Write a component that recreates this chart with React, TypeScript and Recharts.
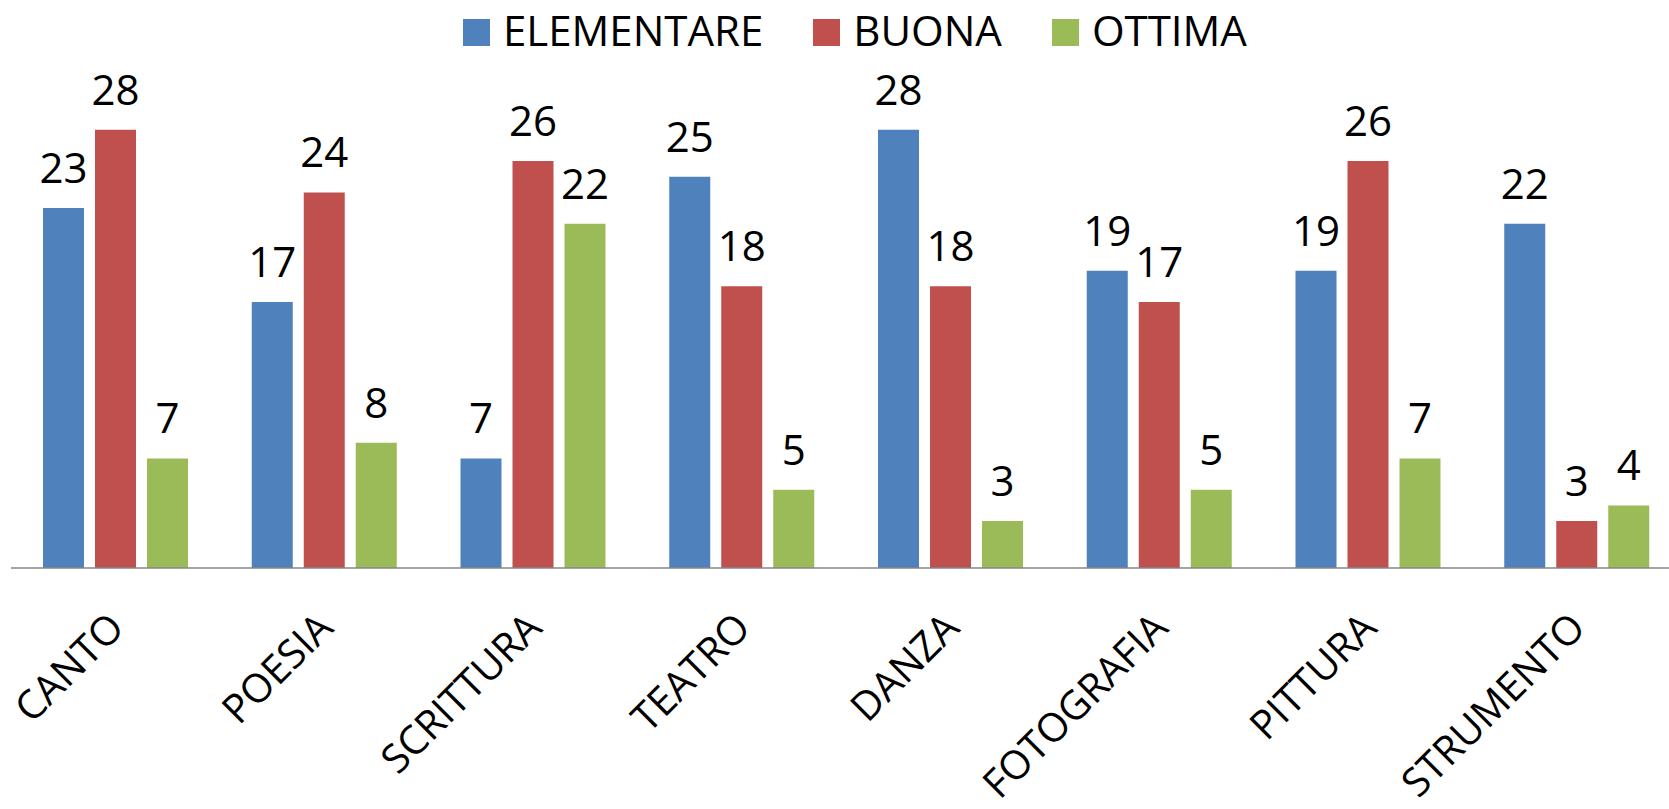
import { BarChart, Bar, XAxis, YAxis, Legend, LabelList } from "recharts";

const categories = [
  "CANTO",
  "POESIA",
  "SCRITTURA",
  "TEATRO",
  "DANZA",
  "FOTOGRAFIA",
  "PITTURA",
  "STRUMENTO",
];
const elementare = [23, 17, 7, 25, 28, 19, 19, 22];
const buona = [28, 24, 26, 18, 18, 17, 26, 3];
const ottima = [7, 8, 22, 5, 3, 5, 7, 4];

const series = [
  { key: "elementare", name: "ELEMENTARE", color: "#4F81BD" },
  { key: "buona", name: "BUONA", color: "#C0504D" },
  { key: "ottima", name: "OTTIMA", color: "#9BBB59" },
];

const data = categories.map((name, i) => ({
  name,
  elementare: elementare[i],
  buona: buona[i],
  ottima: ottima[i],
}));

const FONT = "'Open Sans', sans-serif";

const CategoryTick = (props: any) => {
  const { x, y, payload } = props;
  return (
    <g transform={`translate(${x + 11},${y + 62})`}>
      <text
        x={0}
        y={0}
        textAnchor="end"
        transform="rotate(-45)"
        fill="#000"
        fontSize={40}
        fontFamily={FONT}
      >
        {payload.value}
      </text>
    </g>
  );
};

const LegendContent = () => (
  <div style={{ display: "flex", alignItems: "flex-start", fontFamily: FONT }}>
    {series.map((s) => (
      <div key={s.key} style={{ display: "flex", alignItems: "flex-start", marginRight: 50 }}>
        <div
          style={{
            width: 27,
            height: 27,
            marginTop: 18,
            marginRight: 13,
            background: s.color,
          }}
        />
        <span style={{ fontSize: 42, lineHeight: "57px", color: "#000", whiteSpace: "nowrap" }}>
          {s.name}
        </span>
      </div>
    ))}
  </div>
);

export default function App() {
  return (
    <div style={{ position: "absolute", left: 0, top: 0, width: 1669, height: 809, background: "#fff" }}>
      <BarChart
        width={1669}
        height={809}
        data={data}
        barSize={41}
        barGap={11}
        margin={{ top: 98.5, right: -12, left: 11, bottom: 0 }}
      >
        <XAxis
          dataKey="name"
          height={241}
          interval={0}
          tickLine={false}
          tickSize={0}
          tickMargin={0}
          axisLine={{ stroke: "#868686", strokeWidth: 1.5 }}
          tick={<CategoryTick />}
        />
        <YAxis hide domain={[0, 30]} />
        <Legend
          layout="horizontal"
          verticalAlign="middle"
          content={<LegendContent />}
          wrapperStyle={{ left: 463, top: 1, width: "auto" }}
        />
        {series.map((s) => (
          <Bar key={s.key} dataKey={s.key} name={s.name} fill={s.color} isAnimationActive={false}>
            <LabelList
              dataKey={s.key}
              position="top"
              offset={25}
              fill="#000"
              fontSize={42}
              fontFamily={FONT}
            />
          </Bar>
        ))}
      </BarChart>
    </div>
  );
}
